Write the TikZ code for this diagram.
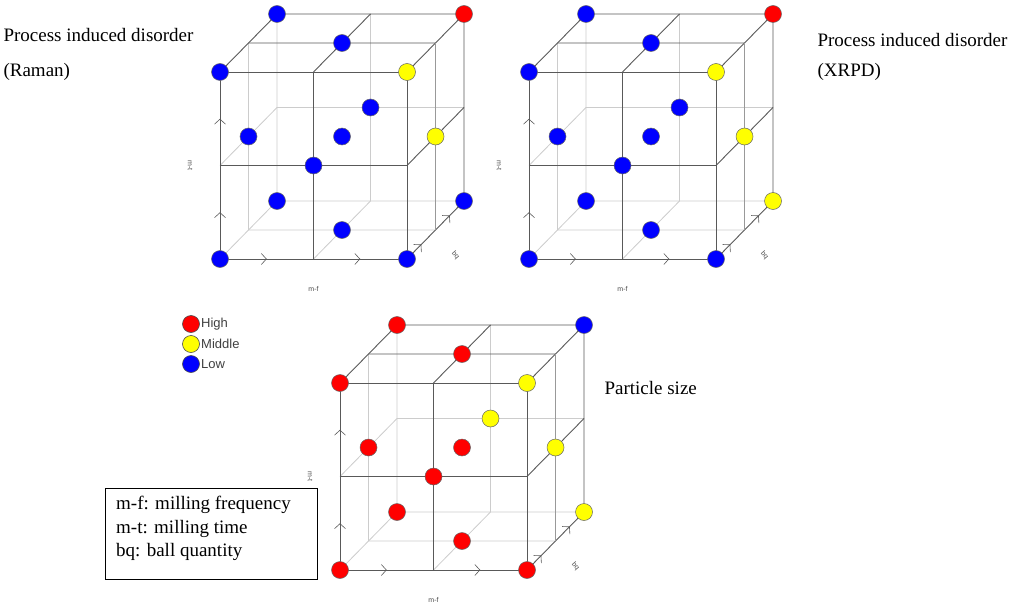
\documentclass[tikz,border=0pt]{standalone}
\usepackage{fontspec}
\setmainfont{Liberation Serif}
\setsansfont{Liberation Sans}
\usetikzlibrary{decorations.markings,arrows.meta}
\definecolor{myR}{RGB}{255,0,0}
\definecolor{myY}{RGB}{255,255,0}
\definecolor{myB}{RGB}{0,0,255}
\tikzset{
 hid/.style={draw=black!20,line width=0.8pt},
 vis/.style={draw=black!65,line width=0.9pt},
 visg/.style={draw=black!40,line width=0.9pt},
 arrmk/.style={postaction={decorate},decoration={markings,
   mark=at position 0.25 with {\arrow{Straight Barb[length=5pt,width=11pt,line width=0.6pt]}},
   mark=at position 0.75 with {\arrow{Straight Barb[length=5pt,width=11pt,line width=0.6pt]}}}},
 dot/.style={circle,draw=black!60,line width=0.5pt,inner sep=0pt,minimum size=17pt},
 axl/.style={font=\sffamily\fontsize{7}{8}\selectfont,text=black!70},
 ttl/.style={font=\fontsize{19}{22}\selectfont,anchor=west}
}
\newcommand\mycube[3]{%
\begin{scope}[shift={(#1pt,-#2pt)},x={(187pt,0pt)},y={(0pt,187pt)},z={(57pt,58pt)}]
 \draw[hid] (0,0,1)--(0,1,1) (0,0,1)--(1,0,1) (0,0,0)--(0,0,1);
 \draw[hid] (.5,0,1)--(.5,1,1) (0,.5,1)--(1,.5,1);
 \draw[hid] (0,0,.5)--(0,1,.5) (0,.5,0)--(0,.5,1);
 \draw[hid] (0,0,.5)--(1,0,.5) (.5,0,0)--(.5,0,1);
 \draw[vis] (1,0,0)--(1,1,0)--(0,1,0);
 \draw[vis,arrmk] (0,0,0)--(1,0,0);
 \draw[vis,arrmk] (0,0,0)--(0,1,0);
 \draw[vis,arrmk] (1,0,0)--(1,0,1);
 \draw[vis] (0,1,0)--(0,1,1)--(1,1,1)--(1,0,1) (1,1,0)--(1,1,1);
 \draw[vis] (.5,0,0)--(.5,1,0) (0,.5,0)--(1,.5,0);
 \draw[vis] (.5,1,0)--(.5,1,1) (0,1,.5)--(1,1,.5);
 \draw[vis] (1,.5,0)--(1,.5,1);
 \draw[visg] (1,0,.5)--(1,1,.5);
 \node[axl] at (.5,-.16,0) {m-f};
 \node[axl,rotate=-90] at (-.16,.5,0) {m-t};
 \node[axl,rotate=-50] at (1.26,.02,0) {bq};
 \foreach \p/\c in {#3} \node[dot,fill=\c] at \p {};
\end{scope}}
\begin{document}
\begin{tikzpicture}[x=1pt,y=-1pt]
\useasboundingbox (0,0) rectangle (1024,607);
\mycube{220}{259}{(0,0,1)/myB,(1,0,1)/myB,(0,0,0)/myB,(.5,0,.5)/myB,(1,0,0)/myB,(0,.5,.5)/myB,(.5,.5,1)/myB,(.5,.5,.5)/myB,(.5,.5,0)/myB,(1,.5,.5)/myY,(0,1,0)/myB,(1,1,0)/myY,(0,1,1)/myB,(.5,1,.5)/myB,(1,1,1)/myR}
\mycube{529}{259}{(0,0,1)/myB,(1,0,1)/myY,(0,0,0)/myB,(.5,0,.5)/myB,(1,0,0)/myB,(0,.5,.5)/myB,(.5,.5,1)/myB,(.5,.5,.5)/myB,(.5,.5,0)/myB,(1,.5,.5)/myY,(0,1,0)/myB,(1,1,0)/myY,(0,1,1)/myB,(.5,1,.5)/myB,(1,1,1)/myR}
\mycube{340}{570}{(0,0,1)/myR,(1,0,1)/myY,(0,0,0)/myR,(.5,0,.5)/myR,(1,0,0)/myR,(0,.5,.5)/myR,(.5,.5,1)/myY,(.5,.5,.5)/myR,(.5,.5,0)/myR,(1,.5,.5)/myY,(0,1,0)/myR,(1,1,0)/myY,(0,1,1)/myR,(.5,1,.5)/myR,(1,1,1)/myB}
\node[ttl] (t1) at (0,35) {Process induced disorder};
\node[ttl] (t1b) at (0,72) {(Raman)};
\node[ttl] (t2) at (814,40) {Process induced disorder};
\node[ttl] (t2b) at (814,72) {(XRPD)};
\node[ttl] (t3) at (601,388) {Particle size};
\foreach \yy/\c/\t in {324/myR/High,344/myY/Middle,364/myB/Low}{
 \node[circle,draw=black!70,line width=0.6pt,fill=\c,minimum size=17pt,inner sep=0pt] (l\t) at (191,\yy) {};
 \node[anchor=west,font=\sffamily\fontsize{13}{15}\selectfont,text=black!75,inner sep=1pt] at (200,\yy) {\t};}
\node[draw,line width=0.8pt,minimum width=212pt,minimum height=91pt,anchor=north west,inner sep=0pt] (box) at (105,488) {};
\node[anchor=north west,font=\fontsize{19}{23.5}\selectfont,align=left,inner sep=0pt] (boxt) at (116,496) {m-f: milling frequency\\m-t: milling time\\bq: ball quantity};
\end{tikzpicture}
\end{document}
